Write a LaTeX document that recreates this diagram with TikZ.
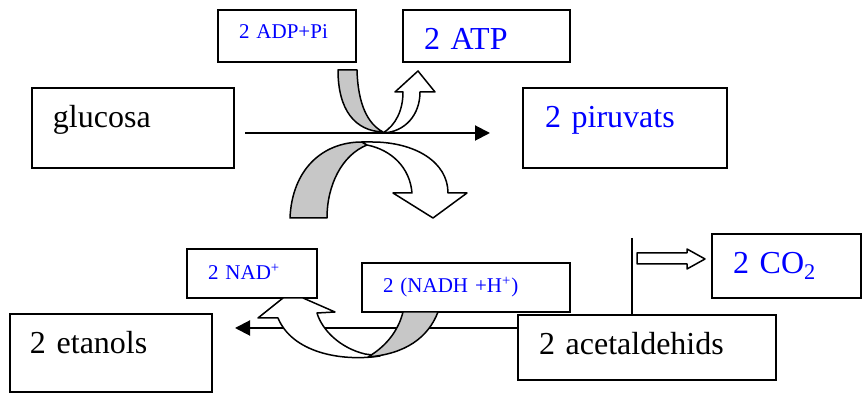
\documentclass[tikz,border=0pt]{standalone}
\usepackage{fontspec}
\setmainfont{Liberation Serif}
\usetikzlibrary{arrows.meta}

\begin{document}
\begin{tikzpicture}[x=0.5pt,y=-0.5pt,>={Triangle[length=7.5pt,width=7.5pt]},
    stage/.style={draw,line width=0.9pt,anchor=north west,inner xsep=10.5pt,inner ysep=0pt,outer sep=0pt,align=left},
    big/.style={font=\fontsize{16}{19}\selectfont},
    small/.style={font=\fontsize{10.5}{12}\selectfont,text=blue},
    flow/.style={->,line width=1pt},
    ribbon/.style={draw,line width=0.75pt,line join=round},
    back/.style={ribbon,fill=black!22}, front/.style={ribbon,fill=white}]

  \useasboundingbox (0,0) rectangle (864,394);

  \node[stage,big,text width=80pt,text height=20pt,text depth=20pt] (glucosa) at (32,88) {glucosa};
  \node[stage,small,text width=48pt,text height=14.5pt,text depth=11.5pt] (adp) at (218,10) {2 ADP+Pi};
  \node[stage,big,text=blue,text width=62.5pt,text height=20pt,text depth=6pt] (atp) at (403,10) {2 ATP};
  \node[stage,big,text=blue,inner xsep=11pt,text width=80pt,text height=20pt,text depth=20pt] (piruvats) at (523,88) {2 piruvats};
  \node[stage,small,text width=44pt,text height=15.5pt,text depth=9pt] (nad) at (187,249) {2 NAD\textsuperscript{+}};
  \node[stage,small,text width=83pt,text height=15pt,text depth=9.5pt] (nadh) at (362,263) {2 (NADH +H\textsuperscript{+})};
  \node[stage,big,text=blue,text width=53.5pt,text height=20pt,text depth=12pt] (co2) at (712,234) {2 CO\textsubscript{2}};
  \node[stage,big,inner xsep=10pt,text width=81pt,text height=20pt,text depth=19pt] (etanols) at (10,314) {2 etanols};
  \node[stage,big,text width=108pt,text height=20pt,text depth=12.5pt] (acetaldehids) at (518,315) {2 acetaldehids};

  \draw[flow,shorten <=5.5pt,shorten >=16.5pt] ([yshift=-2.5pt]glucosa.east) -- ([yshift=-2.5pt]piruvats.west);

  \coordinate (fermback) at ([yshift=9.75pt]acetaldehids.west);
  \draw[flow,shorten >=11.5pt] (fermback) -- (fermback -| etanols.east);

  \coordinate (stem) at (632,238);
  \draw[line width=1pt] (stem) -- (stem |- acetaldehids.north);
  \draw[front] (637,253) -- (687,253) -- (687,249) -- (705,259) -- (687,269) -- (687,264) -- (637,264) -- cycle;

  % ADP -> ATP
  \draw[back] (338,70) -- (357,70) .. controls (358,105) and (368,124) .. (383,132)
    .. controls (355,131) and (338,110) .. (338,70) -- cycle;
  \draw[front] (383,133) .. controls (405,132) and (420,115) .. (420,92) -- (435,92) -- (418,71)
    -- (395,92) -- (403,92) .. controls (403,110) and (396,125) .. (383,133) -- cycle;

  % lower turn under the arrow
  \draw[back] (290,218) .. controls (292,170) and (322,142) .. (362,142) -- (367,145)
    .. controls (342,155) and (327,185) .. (327,218) -- cycle;
  \draw[front] (362,142) -- (372,142) .. controls (415,142) and (448,162) .. (448,193) -- (467,193)
    -- (433,218) -- (393,193) -- (412,193) .. controls (410,168) and (392,150) .. (367,145) -- cycle;

  % NADH -> NAD
  \draw[front] (380,356) .. controls (340,362) and (292,352) .. (278,318) -- (258,318) -- (283,298)
    -- (303,298) -- (335,312) -- (317,313) .. controls (322,330) and (340,348) .. (365,354) -- cycle;
  \draw[back] (403,312) -- (438,312) .. controls (428,338) and (405,354) .. (368,357)
    .. controls (385,347) and (398,332) .. (403,312) -- cycle;

\end{tikzpicture}
\end{document}
